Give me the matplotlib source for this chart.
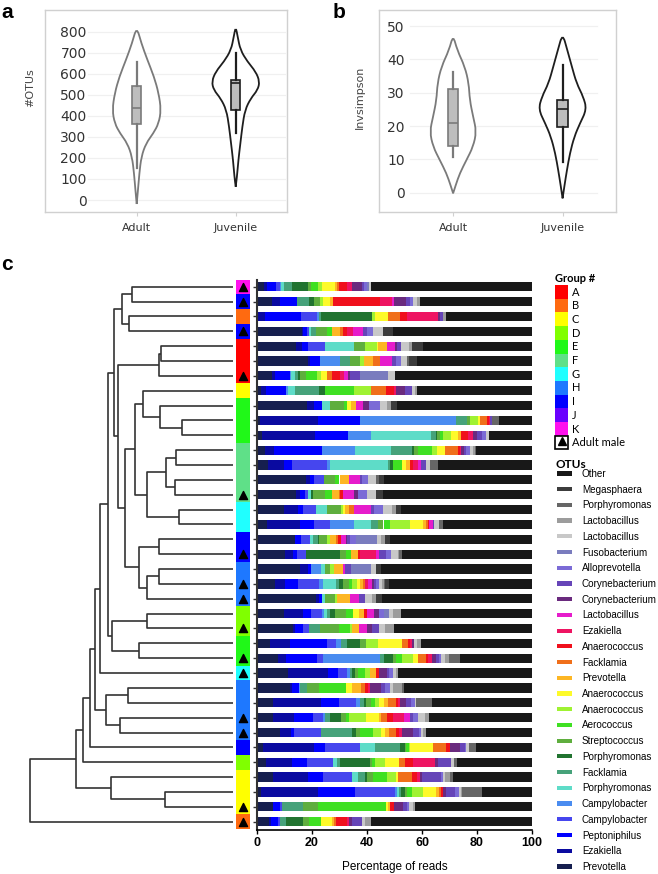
import numpy as np
import matplotlib.pyplot as plt
from matplotlib.path import Path
from matplotlib.patches import PathPatch, Patch, Rectangle
from matplotlib.lines import Line2D
from matplotlib.legend_handler import HandlerTuple, HandlerPatch

W, H = 658, 874

# ---------------- panel a / b : violin outlines ----------------
# value on the y axis, half width of the violin in x units
otus_adult_y = [-19, 48, 127, 206, 269, 317, 364, 428, 507, 586, 666, 745, 824]
otus_adult_w = [0, 0.013, 0.027, 0.047, 0.094, 0.168, 0.222, 0.246, 0.222, 0.175, 0.108, 0.047, 0]
otus_juv_y = [63, 111, 190, 269, 349, 428, 483, 523, 563, 610, 658, 713, 776, 824]
otus_juv_w = [0, 0.013, 0.027, 0.047, 0.067, 0.094, 0.152, 0.222, 0.242, 0.202, 0.118, 0.047, 0.02, 0]
inv_adult_y = [-0.2, 2.3, 5.8, 9.8, 13.8, 18.3, 22.8, 27.8, 32.8, 37.8, 42.8, 47.3]
inv_adult_w = [0, 0.024, 0.061, 0.122, 0.183, 0.213, 0.183, 0.152, 0.143, 0.107, 0.037, 0]
inv_juv_y = [-1.7, 2.3, 6.8, 11.8, 16.8, 20.8, 25.0, 28.8, 32.8, 37.8, 42.8, 47.8]
inv_juv_w = [0, 0.018, 0.04, 0.067, 0.107, 0.159, 0.22, 0.189, 0.128, 0.085, 0.043, 0]

otus_adult_box = dict(whislo=150, q1=361, med=436, q3=542, whishi=658, fliers=[])
otus_juv_box = dict(whislo=317, q1=428, med=555, q3=570, whishi=700, fliers=[])
inv_adult_box = dict(whislo=10.8, q1=14.1, med=20.8, q3=31.1, whishi=36.3, fliers=[])
inv_juv_box = dict(whislo=9.3, q1=19.8, med=25.0, q3=27.8, whishi=38.3, fliers=[])

groups_ab = ["Adult", "Juvenile"]

# ---------------- panel c : relative abundance per sample ----------------
otu_names = ["Prevotella", "Ezakiella", "Peptoniphilus", "Campylobacter", "Campylobacter",
             "Porphyromonas", "Facklamia", "Porphyromonas", "Streptococcus", "Aerococcus",
             "Anaerococcus", "Anaerococcus", "Prevotella", "Facklamia", "Anaerococcus",
             "Ezakiella", "Lactobacillus", "Corynebacterium", "Corynebacterium", "Alloprevotella",
             "Fusobacterium", "Lactobacillus", "Lactobacillus", "Porphyromonas", "Megasphaera", "Other"]
otu_colors = ["#161f4f", "#0a0aa0", "#0000ff", "#4646ee", "#4a8cf0", "#5edcc8", "#46a27a",
              "#217330", "#5fae3e", "#3fe022", "#9ff232", "#fdfa2a", "#fdb624", "#f06f1a",
              "#f0101c", "#ee1462", "#e61ccb", "#6a2a7e", "#6645b8", "#7b6bd6", "#7a7cbe",
              "#c8c8c8", "#9c9c9c", "#666666", "#3c3c3c", "#181818"]

row01 = [2.5, 1.0, 3.5, 1.2, 0.5, 1.0, 3.0, 5.9, 1.2, 2.4, 1.5, 4.8, 0.6, 0.8, 3.0, 1.8, 0, 3.6, 0.6, 1.0, 0.8, 0.8, 0, 0, 0, 58.5]
row02 = [5.5, 2.8, 6.3, 0, 0, 0, 4.4, 1.7, 2.2, 0, 1.0, 2.7, 1.2, 0, 17.0, 4.2, 0.8, 4.4, 1.4, 1.2, 0, 1.2, 1.2, 0, 0, 40.8]
row03 = [0.5, 2.5, 13.0, 5.8, 0.6, 0, 1.0, 18.4, 0, 0, 1.0, 4.7, 0, 4.4, 2.7, 11.3, 0, 0.8, 0.8, 0, 0, 0, 1.2, 0, 0, 31.3]
row04 = [16.3, 0.6, 1.2, 0.8, 0, 0.6, 1.9, 0, 4.1, 1.9, 0, 0, 2.9, 1.0, 1.5, 2.2, 3.4, 0, 1.7, 2.2, 0, 3.4, 0, 0, 3.9, 50.4]
row05 = [14.3, 2.0, 2.4, 6.0, 0, 10.7, 0, 0, 3.9, 0, 4.2, 0.6, 3.0, 0, 0, 0, 3.0, 0.8, 1.6, 0, 0, 2.7, 1.0, 0, 4.2, 39.6]
row06 = [18.4, 1.0, 3.4, 0, 7.5, 0, 3.4, 0, 3.9, 0, 1.2, 0, 3.4, 2.4, 0, 0, 4.5, 0, 1.6, 1.5, 0, 2.2, 0, 0.8, 3.0, 41.8]
row07 = [5.5, 1.2, 5.2, 0, 0.6, 1.2, 1.2, 0.6, 2.4, 3.9, 1.6, 2.0, 0, 1.9, 2.7, 1.5, 1.6, 0.6, 3.6, 0, 10.5, 2.2, 0, 0, 0, 50.0]
row08 = [1.6, 1.8, 7.3, 0, 0.6, 2.4, 8.7, 2.5, 0, 10.5, 6.0, 0, 0, 5.5, 3.0, 0.8, 0, 3.2, 2.4, 0, 0, 1.2, 0.8, 0, 0, 41.7]
row09 = [18.1, 2.7, 2.8, 0, 0, 2.8, 0, 0, 5.3, 1.2, 0, 1.2, 1.9, 0, 0, 0, 2.4, 2.4, 0, 4.1, 0, 2.2, 1.5, 0, 2.4, 49.0]
row10 = [1.0, 21.2, 15.2, 0, 34.9, 0, 3.9, 0, 1.2, 0, 3.0, 0.8, 0, 2.4, 0.7, 0.5, 0, 0, 0.7, 0, 0, 0, 0, 2.4, 0, 12.1]
row11 = [1.8, 19.2, 12.1, 0, 8.5, 21.5, 1.9, 0.6, 0.8, 1.2, 3.0, 2.4, 1.2, 0, 2.4, 1.8, 0, 1.5, 1.9, 1.5, 0, 1.0, 0, 0, 0, 15.7]
row12 = [3.0, 3.2, 17.6, 0, 11.8, 13.3, 7.6, 0.5, 1.6, 5.2, 1.7, 2.8, 0, 4.8, 0.6, 0.6, 0, 0.8, 1.0, 1.2, 0, 1.2, 0.6, 0.6, 0, 20.3]
row13 = [4.0, 5.8, 3.0, 12.6, 1.0, 21.2, 0.8, 1.2, 0, 3.2, 0, 1.5, 1.2, 0, 1.2, 1.8, 1.2, 0, 1.8, 0, 0, 1.5, 0, 2.8, 0, 34.2]
row14 = [17.9, 1.5, 1.2, 3.9, 0, 0, 0, 0, 3.9, 1.6, 0, 0, 3.6, 0, 0, 0, 3.9, 0, 0.6, 2.2, 0, 3.0, 0, 1.0, 1.7, 54.0]
row15 = [14.3, 1.2, 1.8, 1.2, 0, 1.2, 0, 0.8, 4.4, 2.4, 0, 0, 2.4, 0.5, 1.0, 0, 4.2, 1.2, 0, 3.3, 0, 3.4, 0, 0, 2.4, 54.3]
row16 = [9.7, 5.2, 1.8, 4.6, 0, 4.1, 0, 0, 5.2, 0, 0.8, 0.7, 1.5, 1.8, 0, 0, 6.0, 0, 1.2, 3.3, 0, 3.1, 1.5, 0, 1.8, 47.7]
row17 = [3.6, 12.2, 5.1, 5.5, 8.7, 6.4, 2.4, 0, 2.1, 2.2, 7.5, 4.6, 1.2, 0.6, 0.6, 0, 1.2, 0, 0.6, 0, 0, 1.8, 0, 1.2, 0, 32.5]
row18 = [13.7, 0, 2.4, 3.0, 0, 1.2, 1.8, 0.6, 2.7, 0, 1.0, 0, 2.4, 0.6, 1.2, 0, 1.6, 0.5, 1.0, 2.4, 7.5, 1.6, 1.2, 0, 1.8, 51.8]
row19 = [10.0, 3.0, 1.5, 3.2, 0, 0, 0, 12.6, 1.9, 2.1, 0, 0, 2.4, 0, 0.8, 5.8, 1.2, 0, 2.4, 1.8, 0, 2.4, 0.6, 1.0, 0, 47.3]
row20 = [15.6, 3.0, 1.2, 0, 3.6, 1.2, 0, 0, 2.1, 0, 1.2, 0, 3.2, 0, 0, 0, 0.8, 0, 2.4, 0, 7.3, 1.8, 0, 0, 1.8, 54.8]
row21 = [6.4, 3.6, 4.8, 7.6, 1.7, 4.6, 1.2, 1.2, 2.4, 1.2, 1.5, 1.2, 1.2, 0.7, 0, 1.2, 1.2, 0.8, 0.8, 1.0, 0, 1.0, 0.8, 0.6, 1.2, 52.1]
row22 = [21.6, 0.8, 1.2, 0, 0, 1.2, 0, 0, 3.6, 0, 0.8, 0, 4.6, 0, 0, 0, 3.4, 0, 2.1, 0, 0, 2.4, 1.6, 0, 2.1, 54.6]
row23 = [9.9, 6.8, 2.9, 4.0, 0.8, 1.2, 1.0, 1.6, 4.2, 2.4, 0, 2.4, 1.7, 0, 1.0, 0, 2.7, 1.6, 0, 2.1, 1.6, 1.6, 2.9, 0, 0, 47.6]
row24 = [13.1, 0.8, 2.8, 2.2, 0, 0, 4.1, 0, 6.7, 4.0, 1.0, 0, 2.4, 0, 0, 0, 2.9, 1.9, 2.4, 0, 0, 2.1, 3.3, 0, 0, 50.3]
row25 = [4.6, 7.5, 13.3, 3.4, 1.8, 0, 2.1, 4.8, 2.2, 0, 4.2, 8.8, 0, 2.1, 0.8, 0.7, 0, 0.8, 0, 0, 0, 1.2, 1.2, 0, 0, 40.5]
row26 = [7.6, 3.0, 11.2, 2.2, 20.8, 0, 1.2, 3.4, 1.2, 2.2, 3.9, 1.8, 0, 2.8, 0.8, 1.6, 0, 1.5, 1.0, 0.8, 0, 1.2, 1.6, 4.1, 0, 26.1]
row27 = [11.3, 14.5, 3.6, 3.3, 1.0, 0, 1.0, 0.8, 1.2, 2.4, 2.1, 0, 2.2, 0, 1.0, 0, 0, 2.9, 0.7, 1.5, 0, 1.0, 0.8, 0, 0, 48.7]
row28 = [11.9, 0.8, 2.5, 0, 0.5, 0, 2.4, 0, 4.6, 9.5, 0, 2.4, 3.3, 1.2, 1.2, 0.8, 0, 4.0, 1.6, 1.7, 0, 1.2, 3.2, 0.8, 0, 46.4]
row29 = [5.8, 17.3, 6.7, 6.1, 1.7, 0, 1.2, 1.0, 1.8, 1.2, 1.6, 1.7, 1.6, 3.0, 0.6, 0.6, 0, 2.4, 1.8, 1.2, 0, 0.6, 0, 5.8, 0, 36.3]
row30 = [5.7, 7.9, 6.8, 3.6, 0.8, 0, 1.6, 4.1, 1.9, 1.2, 6.1, 4.5, 0.8, 2.2, 2.2, 4.1, 2.2, 0, 1.0, 1.8, 0, 2.7, 1.2, 0, 0, 37.6]
row31 = [8.2, 4.2, 1.0, 9.9, 0, 0, 11.3, 1.5, 1.2, 4.8, 3.0, 1.6, 1.2, 2.7, 1.0, 1.2, 0, 4.1, 1.9, 0.8, 0, 0.8, 1.0, 0, 0, 38.6]
row32 = [2.2, 18.4, 4.0, 13.0, 0, 5.2, 9.3, 1.6, 0.6, 1.0, 0.5, 8.2, 0, 4.8, 1.5, 0, 0, 3.4, 1.8, 0.6, 0, 1.0, 0, 2.7, 0, 20.2]
row33 = [3.2, 9.7, 5.1, 9.5, 0, 1.7, 1.0, 10.9, 0.6, 1.2, 3.6, 5.2, 0, 2.1, 3.0, 7.9, 0, 1.2, 4.5, 0, 0, 1.2, 0, 1.2, 0, 27.2]
row34 = [5.7, 12.8, 5.5, 10.5, 0, 2.4, 2.4, 0.8, 2.2, 4.8, 3.4, 0.8, 0, 5.2, 1.7, 1.2, 0, 0.7, 6.9, 0.8, 0, 0.7, 1.7, 1.2, 0, 28.6]
row35 = [1.6, 20.6, 13.3, 14.5, 0.8, 0.7, 0.8, 1.6, 0.8, 1.6, 3.9, 4.8, 1.0, 0.8, 0.8, 0, 0, 1.0, 3.4, 1.5, 0, 0.6, 0.4, 7.3, 0, 18.2]
row36 = [5.7, 0, 2.5, 0.8, 0, 0, 7.9, 0, 5.1, 25.0, 0, 0.8, 0.6, 0, 1.5, 0, 0, 3.3, 1.2, 1.0, 0, 1.5, 0.4, 0, 0, 42.7]
row37 = [4.4, 0.8, 2.4, 0.8, 0, 0, 2.2, 6.3, 1.9, 4.5, 0, 4.0, 0.6, 0.8, 4.2, 0.6, 0, 1.2, 3.6, 0, 0, 1.0, 2.1, 0, 0, 58.6]

sample_group = ["K", "I", "B", "I", "A", "A", "A", "C", "E", "E", "E", "F", "F", "F", "F", "G",
                "G", "I", "I", "H", "H", "H", "D", "D", "E", "E", "G", "H", "H", "H", "H", "I",
                "D", "C", "C", "C", "B"]
adult_male = [1, 1, 0, 1, 0, 0, 1, 0, 0, 0, 0, 0, 0, 0, 1, 0, 0, 0, 1, 0, 1, 1, 0, 1, 0, 1, 1,
              0, 0, 1, 1, 0, 0, 0, 0, 1, 1]

group_labels = ["A", "B", "C", "D", "E", "F", "G", "H", "I", "J", "K"]
group_colors = ["#ff0000", "#ff6a10", "#ffff00", "#80ff00", "#20f818", "#5fe088", "#20ffff",
                "#1e78ff", "#0000ff", "#6a00ff", "#ff10ee"]

# dendrogram: (left, right, merge height); ints are sample rows
n01 = (0, 1, 101.3)
n23 = (2, 3, 103.7)
clA = (n01, n23, 111.3)
clB = ((4, 5, 72.0), 6, 74.0)
clC = (7, (8, (9, 10, 51.3), 73.0), 90.3)
clH = (((11, 12, 57.3), (13, 14, 58.0), 67.3), (15, 16, 54.0), 86.3)
clG = (clC, clH, 98.0)
clI = ((17, 18, 74.0), ((19, 20, 74.0), 21, 86.3), 93.7)
clF = (clG, clI, 108.0)
clE = (clB, clF, 114.7)
clD = (clA, clE, 119.0)
clJ = ((22, 23, 86.3), (24, 25, 93.7), 120.7)
clK = (clD, clJ, 124.7)
clL = (clK, 26, 133.0)
clN = ((27, 28, 105.3), (29, 30, 113.0), 127.0)
clM = (clL, clN, 138.0)
clO = (clM, 31, 143.0)
clP = (clO, 32, 150.3)
clQ = (33, (34, 35, 68.0), 122.3)
clS = (clP, clQ, 157.0)
tree = (clS, 36, 203.0)


def frac(x0, y0, x1, y1):
    return [x0 / W, 1 - y1 / H, (x1 - x0) / W, (y1 - y0) / H]


def row_handleheight(row_px, size_pt):
    # legend handle box height is fontsize * (0.65 * handleheight + 0.245)
    return (row_px * 72 / 100 / size_pt - 0.245) / 0.65


def swatch(legend, orig_handle, xdescent, ydescent, width, height, fontsize):
    # thin bar centred on the label's cap height
    return Rectangle((-xdescent, 0.36 * fontsize - 1.5), width, 3.0)


def violin_path(center, ys, ws):
    pts = [(center + w, y) for y, w in zip(ys, ws)]
    pts += [(center - w, y) for y, w in zip(ys[::-1], ws[::-1])][1:]
    verts, codes = [pts[0]], [Path.MOVETO]
    for i in range(1, len(pts) - 1):
        mid = ((pts[i][0] + pts[i + 1][0]) / 2, (pts[i][1] + pts[i + 1][1]) / 2)
        verts += [pts[i], mid]
        codes += [Path.CURVE3, Path.CURVE3]
    verts.append(pts[-1])
    codes.append(Path.LINETO)
    return Path(verts, codes)


def violin_panel(ax, xlim, ylim, yticks, ylabel, violins, boxes, grid_span, pad, label_xy):
    ax.set_xlim(xlim)
    ax.set_ylim(ylim)
    for s in ax.spines.values():
        s.set_color("#d0d0d0")
        s.set_linewidth(1.0)
    for t in yticks:
        ax.axhline(t, xmin=grid_span[0], xmax=grid_span[1], color="#f0f0f0", lw=0.9, zorder=0)
    edge = ["#7a7a7a", "#1e1e1e"]
    for i, (ys, ws) in enumerate(violins):
        ax.add_patch(PathPatch(violin_path(i, ys, ws), facecolor="white", edgecolor=edge[i], lw=1.3, zorder=2))
        ax.bxp([boxes[i]], positions=[i], widths=0.095, patch_artist=True, showcaps=False,
               showfliers=False, manage_ticks=False, zorder=3,
               boxprops=dict(facecolor="#bdbdbd", edgecolor=edge[i], lw=1.2),
               medianprops=dict(color=edge[i], lw=1.2),
               whiskerprops=dict(color=edge[i], lw=1.6))
    ax.set_yticks(yticks)
    ax.tick_params(axis="y", length=0, pad=pad, labelsize=10, labelcolor="#333333")
    ax.set_xticks([0, 1])
    ax.set_xticklabels(groups_ab)
    ax.tick_params(axis="x", length=3, color="#d0d0d0", pad=5, labelsize=8, labelcolor="#333333")
    ax.set_ylabel(ylabel, fontsize=8, color="#444444")
    ax.yaxis.set_label_coords(*label_xy)


def draw_tree(ax, node):
    if isinstance(node, int):
        return float(node), 0.0
    left, right, h = node
    yl, hl = draw_tree(ax, left)
    yr, hr = draw_tree(ax, right)
    ax.plot([hl, h, h, hr], [yl, yl, yr, yr], color="#333333", lw=1.2, solid_capstyle="butt")
    return (yl + yr) / 2, h


plt.rcParams["font.family"] = ["DejaVu Sans"]
fig = plt.figure(figsize=(W / 100, H / 100), dpi=100)

ax_a = fig.add_axes(frac(45, 10, 287, 212))
violin_panel(ax_a, (-0.926, 1.518), (-57, 903), list(range(0, 801, 100)), "#OTUs",
             [(otus_adult_y, otus_adult_w), (otus_juv_y, otus_juv_w)],
             [otus_adult_box, otus_juv_box], (0.178, 0.992), -30, (-0.041, 0.614))

ax_b = fig.add_axes(frac(379, 10, 616, 212))
violin_panel(ax_b, (-0.677, 1.488), (-5.8, 54.8), list(range(0, 51, 10)), "Invsimpson",
             [(inv_adult_y, inv_adult_w), (inv_juv_y, inv_juv_w)],
             [inv_adult_box, inv_juv_box], (0.13, 0.918), -18.5, (-0.06, 0.567))

for x, y, s in [(1, 18, "a"), (333, 18, "b"), (1, 270, "c")]:
    fig.text(x / W, 1 - y / H, s, fontsize=15, fontweight="bold", family="Liberation Sans", va="baseline")

rows = np.array([row01, row02, row03, row04, row05, row06, row07, row08, row09, row10,
                 row11, row12, row13, row14, row15, row16, row17, row18, row19, row20,
                 row21, row22, row23, row24, row25, row26, row27, row28, row29, row30,
                 row31, row32, row33, row34, row35, row36, row37])
ypos = np.arange(len(rows))
ylim_c = (36.56, -0.45)

# dendrogram
ax_d = fig.add_axes(frac(23, 280, 233, 830))
draw_tree(ax_d, tree)
ax_d.set_xlim(210, 0)
ax_d.set_ylim(ylim_c)
ax_d.axis("off")

# group strip
ax_s = fig.add_axes(frac(236, 280, 250, 830))
ax_s.barh(ypos, 1, height=1.0, color=[group_colors[group_labels.index(g)] for g in sample_group])
male = np.array(adult_male, dtype=bool)
ax_s.scatter(np.full(male.sum(), 0.5), ypos[male], marker="^", s=34, color="black", zorder=3)
ax_s.set_xlim(0, 1)
ax_s.set_ylim(ylim_c)
ax_s.axis("off")

# stacked bars
ax_c = fig.add_axes(frac(257, 280, 532, 830))
left = np.zeros(len(rows))
for j, col in enumerate(otu_colors):
    ax_c.barh(ypos, rows[:, j], left=left, height=0.62, color=col, lw=0)
    left += rows[:, j]
ax_c.set_xlim(0, 100)
ax_c.set_ylim(ylim_c)
ax_c.spines[["top", "right"]].set_visible(False)
ax_c.spines["left"].set_color("#333333")
ax_c.spines["left"].set_linewidth(1.5)
ax_c.spines["bottom"].set_linewidth(1.2)
ax_c.set_yticks(ypos)
ax_c.set_yticklabels([])
ax_c.tick_params(axis="y", length=3, width=1, color="#333333")
ax_c.set_xticks(range(0, 101, 20))
ax_c.tick_params(axis="x", length=3, width=1, pad=2, labelsize=9)
for t in ax_c.get_xticklabels():
    t.set_fontweight("bold")
    t.set_family("Liberation Sans")
ax_c.set_xlabel("Percentage of reads", fontsize=8.5, family="Liberation Sans", labelpad=9)

# legends
fig.text(555 / W, 1 - 282 / H, "Group #", fontsize=8, fontweight="bold", family="Lato", va="baseline")
g_handles = [Patch(facecolor=c, edgecolor="none") for c in group_colors]
g_handles.append((Patch(facecolor="white", edgecolor="black", lw=1.2),
                  Line2D([], [], marker="^", color="black", ms=6, ls="none")))
fig.legend(g_handles, group_labels + ["Adult male"], loc="upper left",
           bbox_to_anchor=(555 / W, 1 - 285 / H), frameon=False, borderpad=0, borderaxespad=0,
           labelspacing=0, handleheight=row_handleheight(13.7, 8), handlelength=1.17, handletextpad=0.36,
           prop={"family": "Lato", "size": 8}, handler_map={tuple: HandlerTuple(ndivide=1)})

fig.text(556 / W, 1 - 468 / H, "OTUs", fontsize=8.5, fontweight="bold", family="Lato", va="baseline")
o_handles = [Patch(facecolor=c, edgecolor="none") for c in otu_colors[::-1]]
fig.legend(o_handles, otu_names[::-1], loc="upper left",
           bbox_to_anchor=(557 / W, 1 - 466 / H), frameon=False, borderpad=0, borderaxespad=0,
           labelspacing=0, handleheight=row_handleheight(15.72, 7.1), handlelength=1.52,
           handletextpad=1.01, prop={"family": "Liberation Sans", "size": 7.1},
           handler_map={Patch: HandlerPatch(patch_func=swatch)})

fig.savefig("out.png", dpi=100)
